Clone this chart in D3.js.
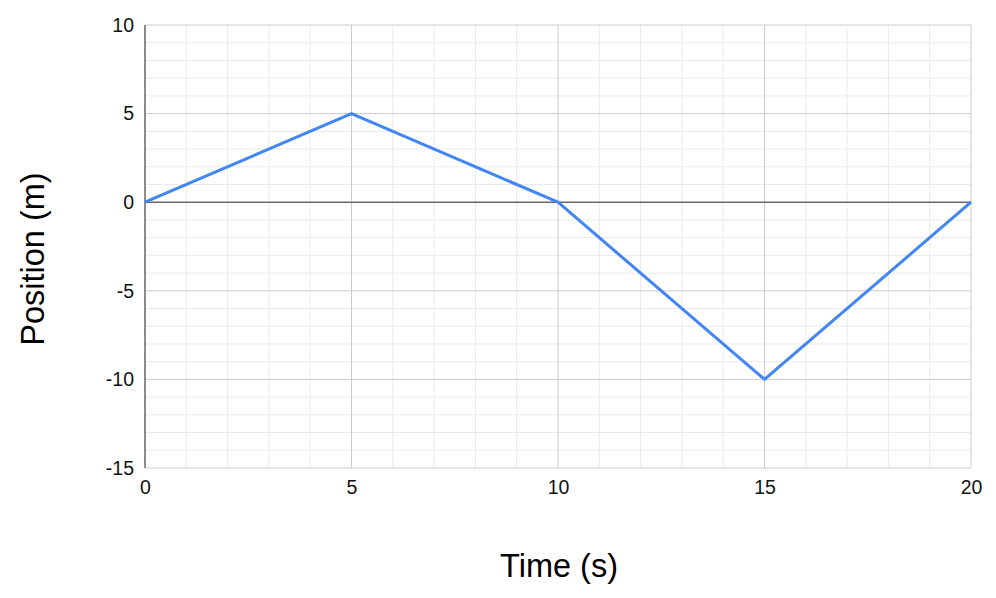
<!DOCTYPE html>
<html><head><meta charset="utf-8">
<script src="https://cdn.jsdelivr.net/npm/d3@7"></script>
<style>body{margin:0;background:#fff}svg{display:block}text{font-family:"Liberation Sans",Arial,sans-serif}</style>
</head><body><svg id="c" width="996" height="598"></svg>
<script>
const times = [0, 5, 10, 15, 20];
const positions = [0, 5, 0, -10, 0];
const xTicks = [0, 5, 10, 15, 20];
const yTicks = [10, 5, 0, -5, -10, -15];
const xLabel = "Time (s)";
const yLabel = "Position (m)";

const svg = d3.select("#c");
const L = 145, R = 971, T = 25, B = 468;
const x = d3.scaleLinear().domain([0, 20]).range([L, R]);
const y = d3.scaleLinear().domain([-15, 10]).range([B, T]);

const g = svg.append("g");
// minor grid
g.selectAll(".vx").data(d3.range(0, 21).filter(v => v % 5 !== 0)).join("line")
  .attr("x1", d => x(d)).attr("x2", d => x(d)).attr("y1", T).attr("y2", B)
  .attr("stroke", "#ebebeb").attr("stroke-width", 1);
g.selectAll(".hy").data(d3.range(-15, 11).filter(v => v % 5 !== 0)).join("line")
  .attr("y1", d => y(d)).attr("y2", d => y(d)).attr("x1", L).attr("x2", R)
  .attr("stroke", "#ebebeb").attr("stroke-width", 1);
// major grid
g.selectAll(".mx").data(xTicks).join("line")
  .attr("x1", d => x(d)).attr("x2", d => x(d)).attr("y1", T).attr("y2", B)
  .attr("stroke", "#cccccc").attr("stroke-width", 1);
g.selectAll(".my").data(yTicks).join("line")
  .attr("y1", d => y(d)).attr("y2", d => y(d)).attr("x1", L).attr("x2", R)
  .attr("stroke", "#cccccc").attr("stroke-width", 1);
// zero line and left axis
g.append("line").attr("x1", L).attr("x2", R).attr("y1", y(0)).attr("y2", y(0)).attr("stroke", "#333").attr("stroke-width", 1);
g.append("line").attr("x1", L).attr("x2", L).attr("y1", T).attr("y2", B).attr("stroke", "#333").attr("stroke-width", 1);

const fmt = d => String(d);
// axes labels
const yAxis = d3.axisLeft(y).tickValues(yTicks).tickFormat(fmt).tickSize(0).tickPadding(11);
svg.append("g").attr("transform", `translate(${L},0)`).call(yAxis)
  .attr("font-size", 19.5).attr("font-family", '"Liberation Sans",Arial,sans-serif')
  .call(s => s.select(".domain").remove())
  .selectAll("text").attr("fill", "#111");
const xAxis = d3.axisBottom(x).tickValues(xTicks).tickFormat(fmt).tickSize(0).tickPadding(12);
svg.append("g").attr("transform", `translate(0,${B})`).call(xAxis)
  .attr("font-size", 19.5).attr("font-family", '"Liberation Sans",Arial,sans-serif')
  .call(s => s.select(".domain").remove())
  .selectAll("text").attr("fill", "#111");

// line
const line = d3.line().x((d, i) => x(times[i])).y(d => y(d));
svg.append("path").datum(positions).attr("d", line).attr("fill", "none")
  .attr("stroke", "#4285f4").attr("stroke-width", 3).attr("stroke-linejoin", "round");

// titles
svg.append("text").attr("x", 559).attr("y", 577).attr("text-anchor", "middle")
  .attr("font-size", 32.5).attr("fill", "#000").text(xLabel);
svg.append("text").attr("transform", "translate(44,259) rotate(-90)").attr("text-anchor", "middle")
  .attr("font-size", 32.5).attr("fill", "#000").text(yLabel);
</script></body></html>
